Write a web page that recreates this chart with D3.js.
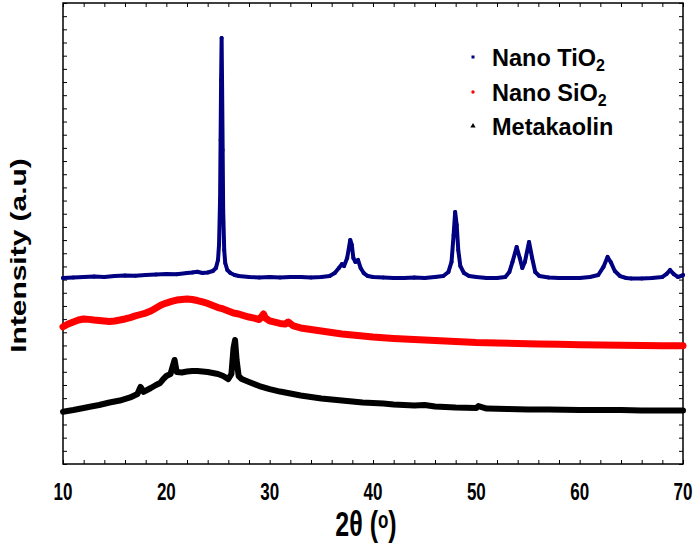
<!DOCTYPE html>
<meta charset="utf-8">
<title>XRD patterns</title>
<style>
  body {
    margin: 0;
    background: #fff;
  }

  svg {
    display: block;
  }

  text {
    font-family: "Liberation Sans", Arial, sans-serif;
    font-weight: bold;
    fill: #000;
  }

  .series path {
    fill: none;
    stroke-linejoin: round;
    stroke-linecap: round;
  }

  .frame {
    fill: none;
    stroke: #000;
    stroke-width: 1.5;
  }
</style>

<body>
  <script src="https://d3js.org/d3.v7.min.js"></script>
  <script>
    // 2theta (deg), intensity (a.u., curves already offset as plotted)
    const tio2 = [
      [10, 1412], [11, 1416], [12, 1420], [13, 1423], [14, 1420], [15, 1427], [16, 1431], [17, 1429],
      [18, 1435], [19, 1439], [20, 1442], [21, 1440], [22, 1450], [22.5, 1454], [23, 1460], [23.5, 1450],
      [24, 1454], [24.5, 1465], [24.8, 1488], [25, 1549], [25.1, 1663], [25.2, 2004], [25.25, 2460],
      [25.3, 2915], [25.35, 3234], [25.4, 2839], [25.45, 2384], [25.5, 1928], [25.6, 1625], [25.7, 1526],
      [25.9, 1473], [26.2, 1450], [26.6, 1435], [27, 1427], [28, 1420], [29, 1416], [30, 1420], [31, 1416],
      [32, 1420], [33, 1420], [34, 1416], [35, 1420], [35.8, 1427], [36.3, 1450], [36.7, 1488], [37, 1518],
      [37.2, 1503], [37.5, 1564], [37.8, 1701], [37.95, 1663], [38.1, 1564], [38.3, 1534], [38.55, 1549],
      [38.8, 1488], [39.1, 1450], [39.5, 1427], [40, 1420], [41, 1416], [42, 1412], [43, 1412], [44, 1416],
      [45, 1412], [46, 1420], [46.8, 1427], [47.3, 1458], [47.6, 1534], [47.8, 1739], [47.95, 1913],
      [48.1, 1815], [48.25, 1625], [48.45, 1503], [48.8, 1450], [49.3, 1427], [50, 1420], [51, 1412],
      [52, 1412], [52.8, 1420], [53.2, 1458], [53.5, 1534], [53.9, 1648], [54.2, 1564], [54.45, 1488],
      [54.7, 1534], [55.1, 1686], [55.4, 1564], [55.7, 1458], [56.1, 1427], [57, 1416], [58, 1412],
      [59, 1412], [60, 1412], [61, 1420], [61.8, 1435], [62.3, 1496], [62.7, 1572], [63, 1534], [63.4, 1465],
      [63.9, 1427], [64.5, 1412], [65, 1408], [66, 1408], [67, 1412], [68, 1420], [68.4, 1442], [68.75, 1473],
      [69.1, 1442], [69.5, 1420], [69.8, 1427], [70, 1435]
    ];

    const sio2 = [
      [10, 1042], [10.5, 1063], [11, 1078], [11.5, 1093], [12, 1101], [12.5, 1098], [13, 1093], [13.5, 1090],
      [14, 1086], [14.5, 1082], [15, 1086], [15.5, 1093], [16, 1101], [16.5, 1112], [17, 1124], [17.5, 1135],
      [18, 1146], [18.5, 1162], [19, 1184], [19.5, 1207], [20, 1222], [20.5, 1234], [21, 1245], [21.5, 1249],
      [22, 1253], [22.5, 1249], [23, 1241], [23.5, 1230], [24, 1219], [24.5, 1203], [25, 1188], [25.5, 1177],
      [26, 1162], [26.5, 1146], [27, 1139], [27.5, 1127], [28, 1116], [28.5, 1108], [29, 1097], [29.4, 1139],
      [29.6, 1108], [30, 1086], [31, 1067], [31.5, 1062], [31.8, 1078], [32.3, 1048], [33, 1033], [34, 1021],
      [35, 1010], [36, 998], [37, 987], [38, 979], [39, 972], [40, 964], [42, 953], [44, 945], [46, 938],
      [48, 930], [50, 922], [52, 919], [54, 915], [56, 911], [58, 909], [60, 905], [62, 903], [64, 901],
      [66, 900], [68, 898], [70, 897]
    ];

    const metakaolin = [
      [10, 397], [11, 410], [12, 425], [12.6, 435], [13.5, 448], [14.5, 467], [15.5, 482], [16.5, 505],
      [17.2, 531], [17.5, 585], [17.8, 547], [18.5, 577], [19, 600], [19.4, 615], [19.7, 645], [20, 668],
      [20.4, 683], [20.8, 790], [21, 698], [21.5, 695], [22, 702], [22.5, 706], [23, 706], [23.5, 702],
      [24, 698], [24.5, 691], [25, 683], [25.5, 668], [26, 645], [26.3, 683], [26.5, 881], [26.65, 941],
      [26.8, 790], [27, 668], [27.3, 645], [28, 623], [29, 592], [30, 569], [31, 550], [32, 535], [33, 520],
      [34, 509], [35, 497], [36, 490], [37, 482], [38, 474], [39, 467], [40, 463], [41, 459], [42, 452],
      [43, 448], [44, 444], [45, 448], [46, 437], [48, 429], [50, 425], [50.2, 440], [51, 421], [53, 418],
      [55, 414], [57, 414], [60, 410], [62, 410], [64, 410], [66, 406], [68, 406], [70, 406]
    ];

    const seriesNames = ["Nano TiO", "Nano SiO", "Metakaolin"];
    const seriesSubs = ["2", "2", ""];
    const seriesColors = ["#000080", "#ff0000", "#000000"];
    const xLabelTicks = [10, 20, 30, 40, 50, 60, 70];

    var width = 694,
      height = 546;
    var margin = { top: 3, right: 11, bottom: 82, left: 63 };

    var x = d3.scaleLinear().domain([10, 70]).range([margin.left, width - margin.right]);
    var y = d3.scaleLinear().domain([0, 3500]).range([height - margin.bottom, margin.top]);

    var svg = d3.select("body").append("svg")
      .attr("width", width)
      .attr("height", height);

    // inward ticks on all four sides
    var minorX = d3.range(10, 70.1, 2);
    var minorY = d3.range(0, 3501, 100);

    svg.append("g")
      .attr("transform", `translate(0,${y(0)})`)
      .call(d3.axisBottom(x).tickValues(minorX).tickSize(-4).tickFormat(""));
    svg.append("g")
      .attr("transform", `translate(0,${margin.top})`)
      .call(d3.axisTop(x).tickValues(minorX).tickSize(-4).tickFormat(""));
    svg.append("g")
      .attr("transform", `translate(${margin.left},0)`)
      .call(d3.axisLeft(y).tickValues(minorY).tickSize(-4).tickFormat(""));
    svg.append("g")
      .attr("transform", `translate(${width - margin.right},0)`)
      .call(d3.axisRight(y).tickValues(minorY).tickSize(-4).tickFormat(""));
    svg.selectAll(".domain").remove();

    svg.append("rect")
      .attr("class", "frame")
      .attr("x", margin.left)
      .attr("y", margin.top)
      .attr("width", width - margin.left - margin.right)
      .attr("height", height - margin.top - margin.bottom);

    // tick labels (the figure's text is stretched vertically)
    svg.append("g").selectAll("text")
      .data(xLabelTicks)
      .enter().append("text")
      .attr("text-anchor", "middle")
      .attr("font-size", 17)
      .attr("transform", d => `translate(${x(d)},500) scale(1,1.37)`)
      .text(d => d);

    var xTitle = svg.append("text")
      .attr("text-anchor", "middle")
      .attr("font-size", 25)
      .attr("transform", `translate(366,536) scale(1,1.4)`);
    xTitle.append("tspan").text("2\u03b8 (");
    xTitle.append("tspan").attr("font-size", 17).attr("dy", -6).text("o");
    xTitle.append("tspan").attr("dy", 6).text(")");

    svg.append("text")
      .attr("text-anchor", "middle")
      .attr("font-size", 22)
      .attr("transform", `translate(26,${y(1750) + 22}) scale(1,1.36) rotate(-90)`)
      .text("Intensity (a.u)");

    var line = d3.line()
      .x(d => x(d[0]))
      .y(d => y(d[1]));

    var allSeries = [tio2, sio2, metakaolin];
    var widths = [4, 7, 6];

    var series = svg.append("g").attr("class", "series");
    allSeries.forEach((data, i) => {
      var g = series.append("g");
      g.append("path")
        .datum(data)
        .attr("d", line)
        .attr("stroke", seriesColors[i])
        .attr("stroke-width", widths[i]);
      g.selectAll("circle")
        .data(data)
        .enter().append("circle")
        .attr("cx", d => x(d[0]))
        .attr("cy", d => y(d[1]))
        .attr("r", 2)
        .attr("fill", seriesColors[i]);
    });

    // legend
    var legend = svg.append("g").attr("class", "legend");
    var rowY = [66, 101, 135];
    seriesNames.forEach((name, i) => {
      var t = legend.append("text")
        .attr("x", 492)
        .attr("y", rowY[i])
        .attr("font-size", 23.5)
        .text(name);
      if (seriesSubs[i]) {
        t.append("tspan").attr("font-size", 16).attr("dy", 5).text(seriesSubs[i]);
      }
    });
    legend.append("rect").attr("x", 471.5).attr("y", rowY[0] - 10.5).attr("width", 3).attr("height", 3)
      .attr("fill", seriesColors[0]);
    legend.append("circle").attr("cx", 473).attr("cy", rowY[1] - 9).attr("r", 1.7)
      .attr("fill", seriesColors[1]);
    legend.append("path").attr("d", d3.symbol(d3.symbolTriangle, 12)())
      .attr("transform", `translate(473,${rowY[2] - 9})`)
      .attr("fill", seriesColors[2]);
  </script>
